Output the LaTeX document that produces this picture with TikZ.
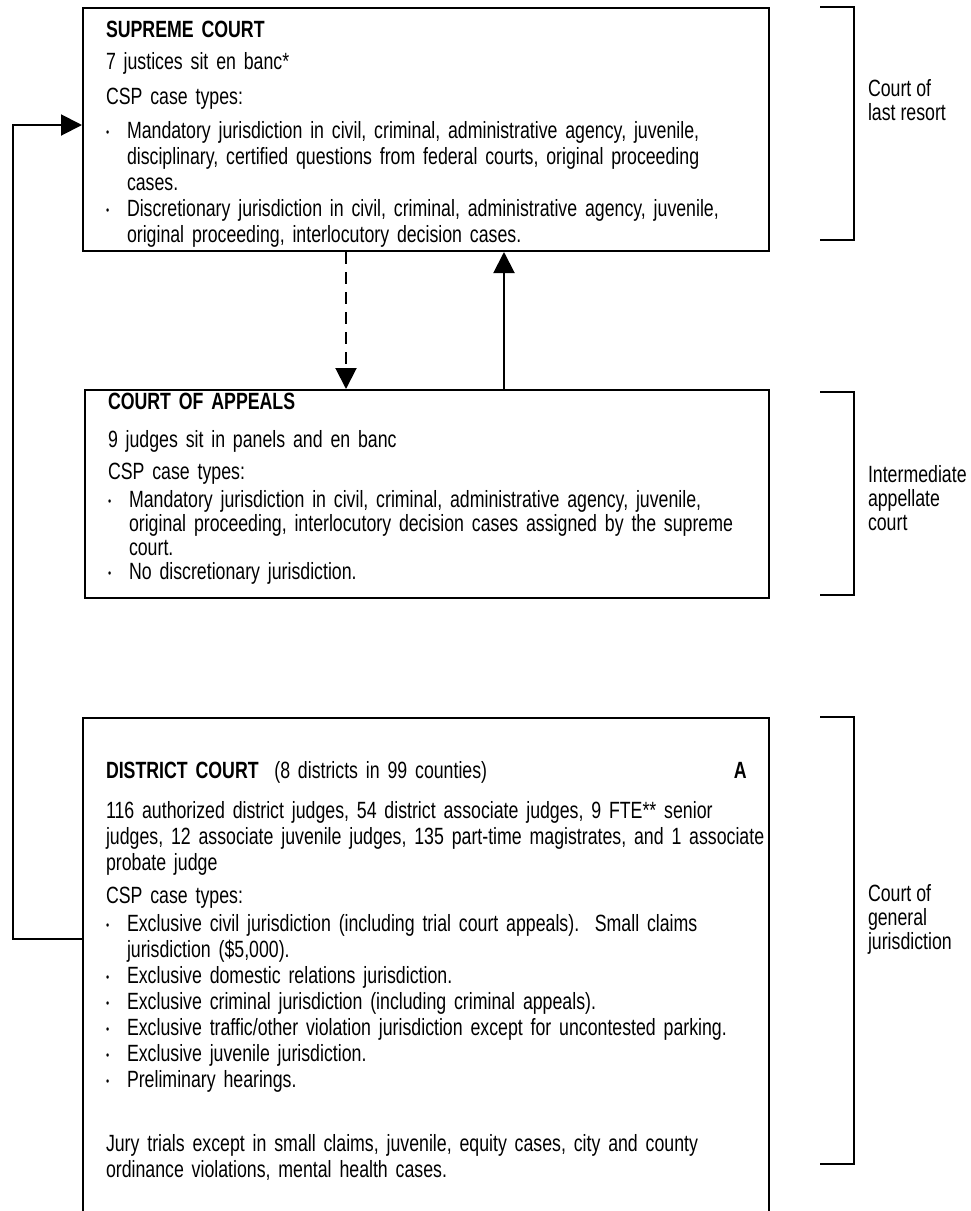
\documentclass[tikz,border=0pt]{standalone}
\usepackage{fontspec}
\setmainfont{Liberation Sans}[FakeStretch=0.755]
\usetikzlibrary{positioning}
\usetikzlibrary{arrows.meta}
\setlength{\parindent}{0pt}
\frenchspacing

\newcommand{\gapline}[1]{\par\vspace{#1}}
\newcommand{\caseitem}[1]{\par\noindent\makebox[21pt][l]{\raisebox{2pt}{\fontsize{12}{12}\selectfont\textbullet}}#1}
\newcommand{\caseline}[1]{\par\noindent\hspace*{21pt}#1}

\begin{document}
\begin{tikzpicture}[x=1pt, y=-1pt,
	court/.style={draw, line width=2pt, anchor=north west, inner sep=0},
	body/.style={anchor=north west, inner sep=0, outer sep=0, text width=700pt, align=left, font=\fontsize{23.5}{26}\selectfont},
	side/.style={anchor=west, inner sep=0, outer sep=0, align=left, font=\fontsize{23.5}{24}\selectfont},
	bracket/.style={line width=2pt},
	link/.style={line width=2pt, -{Triangle[width=21pt,length=21pt]}}]
		
		\useasboundingbox (0,0) rectangle (971,1211);
		\clip (0,0) rectangle (971,1211);
		
		%Boxes
		\node[court, minimum width=686pt, minimum height=243pt] (sup) at (82,7) {};
		\node[court, minimum width=684pt, minimum height=208pt] (coa) at (84,389) {};
		\node[court, minimum width=686pt, minimum height=560pt] (dis) at (82,717) {};
		
		%Texts
		\node[body, below right=14pt and 24pt of sup.north west] (suptext) {\textbf{SUPREME COURT}\gapline{6pt}
			7 justices sit en banc*\gapline{9pt}
			CSP case types:\gapline{8pt}
			\caseitem{Mandatory jurisdiction in civil, criminal, administrative agency, juvenile,}
			\caseline{disciplinary, certified questions from federal courts, original proceeding}
			\caseline{cases.}
			\caseitem{Discretionary jurisdiction in civil, criminal, administrative agency, juvenile,}
			\caseline{original proceeding, interlocutory decision cases.}};
		\node[body, below right=4pt and 24pt of coa.north west, font=\fontsize{23.5}{24}\selectfont] (coatext) {\textbf{COURT OF APPEALS}\gapline{14pt}
			9 judges sit in panels and en banc\gapline{8pt}
			CSP case types:\gapline{4pt}
			\caseitem{Mandatory jurisdiction in civil, criminal, administrative agency, juvenile,}
			\caseline{original proceeding, interlocutory decision cases assigned by the supreme}
			\caseline{court.}
			\caseitem{No discretionary jurisdiction.}};
		\node[body, below right=44pt and 24pt of dis.north west] (distext) {\makebox[628pt][l]{\textbf{DISTRICT COURT}\ \ (8 districts in 99 counties)}\textbf{A}\gapline{14pt}
			116 authorized district judges, 54 district associate judges, 9 FTE** senior\\ judges, 12 associate juvenile judges, 135 part-time magistrates, and 1 associate\\ probate judge\gapline{7pt}
			CSP case types:\gapline{2pt}
			\caseitem{Exclusive civil jurisdiction (including trial court appeals).\ \ Small claims}
			\caseline{jurisdiction (\$5,000).}
			\caseitem{Exclusive domestic relations jurisdiction.}
			\caseitem{Exclusive criminal jurisdiction (including criminal appeals).}
			\caseitem{Exclusive traffic/other violation jurisdiction except for uncontested parking.}
			\caseitem{Exclusive juvenile jurisdiction.}
			\caseitem{Preliminary hearings.}
			\gapline{38pt}
			Jury trials except in small claims, juvenile, equity cases, city and county\\ ordinance violations, mental health cases.};
		
		%Side labels
		\node[side] (lastresort) at (868,100) {Court of\\last resort};
		\node[side] (midlevel) at (868,498) {Intermediate\\appellate\\court};
		\node[side] (general) at (868,919) {Court of\\general\\jurisdiction};
		
		%Brackets
		\draw[bracket] (820,7) -| (854,240) -- (820,240);
		\draw[bracket] (820,392) -| (854,595) -- (820,595);
		\draw[bracket] (820,717) -| (854,1164) -- (820,1164);
		
		%Lines
		\coordinate (dashx) at (346,0);
		\coordinate (upx) at (504,0);
		\coordinate (feed) at (0,939);
		\coordinate (back) at (13,125);
		\draw[link, dash pattern=on 12pt off 8pt] (sup.south -| dashx) -- (coa.north -| dashx);
		\draw[link] (coa.north -| upx) -- (sup.south -| upx);
		\draw[link] (dis.west |- feed) -| (back) |- (sup.west |- back);
	\end{tikzpicture}
\end{document}
